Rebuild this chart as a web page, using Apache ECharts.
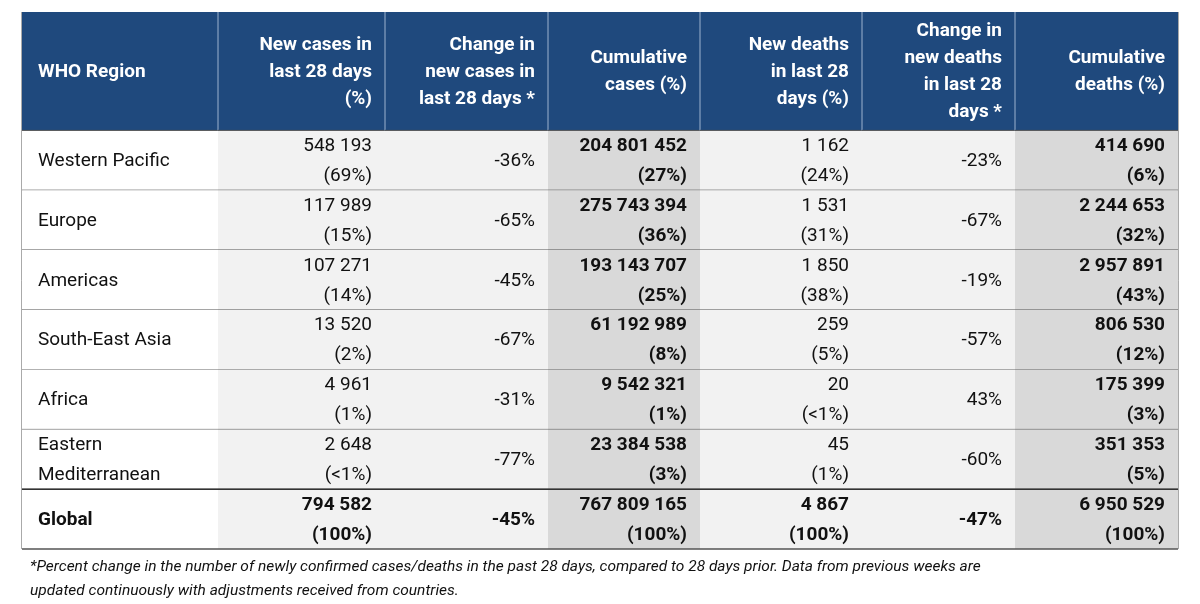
<!DOCTYPE html>
<html><head><meta charset="utf-8">
<script src="https://cdn.jsdelivr.net/npm/echarts@6/dist/echarts.min.js"></script>
<style>html,body{margin:0;background:#fff}#c{width:1200px;height:604px}</style>
</head><body><div id="c"></div>
<script>
const headers = ["WHO Region","New cases in\nlast 28 days\n(%)","Change in\nnew cases in\nlast 28 days *","Cumulative\ncases (%)","New deaths\nin last 28\ndays (%)","Change in\nnew deaths\nin last 28\ndays *","Cumulative\ndeaths (%)"];
const regions = ["Western Pacific","Europe","Americas","South-East Asia","Africa","Eastern\nMediterranean","Global"];
const newCases = ["548 193\n(69%)","117 989\n(15%)","107 271\n(14%)","13 520\n(2%)","4 961\n(1%)","2 648\n(<1%)","794 582\n(100%)"];
const changeCases = ["-36%","-65%","-45%","-67%","-31%","-77%","-45%"];
const cumCases = ["204 801 452\n(27%)","275 743 394\n(36%)","193 143 707\n(25%)","61 192 989\n(8%)","9 542 321\n(1%)","23 384 538\n(3%)","767 809 165\n(100%)"];
const newDeaths = ["1 162\n(24%)","1 531\n(31%)","1 850\n(38%)","259\n(5%)","20\n(<1%)","45\n(1%)","4 867\n(100%)"];
const changeDeaths = ["-23%","-67%","-19%","-57%","43%","-60%","-47%"];
const cumDeaths = ["414 690\n(6%)","2 244 653\n(32%)","2 957 891\n(43%)","806 530\n(12%)","175 399\n(3%)","351 353\n(5%)","6 950 529\n(100%)"];
const footnote = "*Percent change in the number of newly confirmed cases/deaths in the past 28 days, compared to 28 days prior. Data from previous weeks are\nupdated continuously with adjustments received from countries.";

const columns = [regions,newCases,changeCases,cumCases,newDeaths,changeDeaths,cumDeaths];
const colEdges = [0,196,363,526,678,840,993,1156];
const headH = 118, rowH = 59.6;
const data = [];
for (let c=0;c<7;c++){ data.push([c,-1,headers[c]]); for(let r=0;r<regions.length;r++) data.push([c,r,columns[c][r]]); }

const chart = echarts.init(document.getElementById('c'));
chart.setOption({
  animation:false,
  grid:{left:22,right:22,top:12,bottom:55},
  xAxis:{type:'value',min:0,max:1156,show:false},
  yAxis:{type:'value',min:0,max:headH+rowH*7,inverse:true,show:false},
  series:[{type:'custom',data:data,renderItem:function(params,api){
    const c=api.value(0), r=api.value(1), txt=data[params.dataIndex][2];
    const y0 = r<0?0:headH+r*rowH, y1 = r<0?headH:headH+(r+1)*rowH;
    const p0=api.coord([colEdges[c],y0]), p1=api.coord([colEdges[c+1],y1]);
    const w=p1[0]-p0[0], h=p1[1]-p0[1];
    let fill = r<0?'#1f497d':(c===0?'#ffffff':(c===3||c===6?'#d9d9d9':'#f2f2f2'));
    const bold = r<0 || r===6 || c===3 || c===6 || (r===6);
    const right = c!==0;
    const children=[{type:'rect',shape:{x:p0[0],y:p0[1],width:w,height:h},style:{fill:fill}}];
    if(r<0 && c>0) children.push({type:'line',shape:{x1:p0[0],y1:p0[1],x2:p0[0],y2:p1[1]},style:{stroke:'#9db3cf',lineWidth:1}});
    children.push({type:'line',shape:{x1:p0[0],y1:p1[1],x2:p1[0],y2:p1[1]},style:{stroke:r<0?'#1f497d':'#555',lineWidth:r===6?1.5:1}});
    if(r===0) children.push({type:'line',shape:{x1:p0[0],y1:p0[1],x2:p1[0],y2:p0[1]},style:{stroke:'#555',lineWidth:1}});
    if(r===6) children.push({type:'line',shape:{x1:p0[0],y1:p0[1],x2:p1[0],y2:p0[1]},style:{stroke:'#333',lineWidth:1.5}});
    children.push({type:'text',x:right?p1[0]-13:p0[0]+16,y:(p0[1]+p1[1])/2+1,style:{text:txt,fill:r<0?'#fff':'#111',fontFamily:'Roboto',fontSize:19,fontWeight:bold?'bold':'normal',align:right?'right':'left',verticalAlign:'middle',lineHeight:r<0?27:30}});
    return {type:'group',children:children};
  }}],
  graphic:[
    {type:'line',shape:{x1:22,y1:12,x2:22,y2:549},style:{stroke:'#555',lineWidth:1}},
    {type:'line',shape:{x1:1178,y1:12,x2:1178,y2:549},style:{stroke:'#555',lineWidth:1}},
    {type:'text',left:30,top:555,style:{text:footnote,fill:'#111',fontFamily:'Roboto',fontSize:15.5,fontStyle:'italic',lineHeight:24}}
  ]
});
</script></body></html>
